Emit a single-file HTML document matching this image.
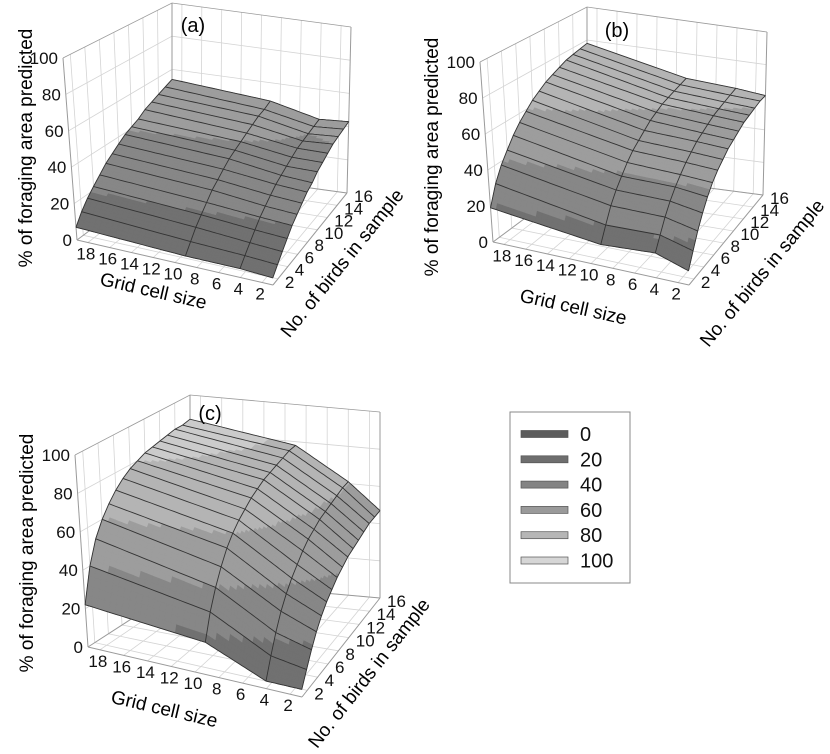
<!DOCTYPE html>
<html><head><meta charset="utf-8">
<style>
html,body{margin:0;padding:0;background:#fff;}
svg{display:block;font-family:"Liberation Sans",Arial,sans-serif;}
</style></head>
<body>
<svg id="chart" width="830" height="754" viewBox="0 0 830 754">
<g id="legend">
  <rect x="510" y="412" width="120" height="171" fill="#fff" stroke="#888" stroke-width="1"/>
</g>
</svg>
<script>
// ---- data ----
const gridCols = [19, 9, 4, 1];
const birdRows = [1,2,3,4,5,6,7,8,9,10,11,12,13,14,15,16];
const gridTicks = [18,16,14,12,10,8,6,4,2];
const birdTicks = [2,4,6,8,10,12,14,16];
const zTicks = [0,20,40,60,80,100];
const legendLevels = [0,20,40,60,80,100];

const colA19 = [7,13,18,22,26,30,33,36,39,41,43,46,48,50,52,54];
const colA9  = [5,10,15,19,23,27,30,33,36,38,40,42,44,46,47,49];
const colA4  = [5,9,13,17,21,24,27,30,32,34,36,38,39,40,41,42];
const colA1  = [4,8,12,16,20,23,26,29,31,34,36,38,40,41,42,43];

const colB19 = [19,30,38,44,50,55,59,63,66,69,71,73,75,76,77,78];
const colB9  = [12,20,28,34,39,44,48,51,54,57,59,61,62,63,64,65];
const colB4  = [14,21,28,34,39,43,47,50,53,55,57,59,60,61,62,63];
const colB1  = [8,16,24,31,37,42,46,49,52,54,56,58,59,60,61,61];

const colC19 = [22,40,52,60,66,71,75,78,80,82,83,84,85,86,86,87];
const colC9  = [17,30,40,48,55,60,64,67,70,72,74,75,76,77,78,78];
const colC4  = [4,14,23,31,37,42,46,50,53,55,57,58,59,60,61,61];
const colC1  = [4,11,18,24,29,33,36,39,41,43,44,45,46,47,47,47];

const surfaceA = [colA19, colA9, colA4, colA1];
const surfaceB = [colB19, colB9, colB4, colB1];
const surfaceC = [colC19, colC9, colC4, colC1];

// ---- geometry (panel frames) ----
const panels = [
  {id:'a', surf:surfaceA, FL:[77,240], FR:[273,285], BR:[347,193], BL:[172,169],
   VFL:[-14,-182], VFR:[-6,-178], VBR:[4,-166], VBL:[0,-166],
   tag:[193,25], gt:[152,297], bt:[347,267], yt:[32,148]},
  {id:'b', surf:surfaceB, FL:[493,242], FR:[689,285], BR:[763,195], BL:[587,172],
   VFL:[-13,-180], VFR:[-6,-177], VBR:[4,-163], VBL:[0,-165],
   tag:[617,30], gt:[572,313], bt:[767,277], yt:[438,157]},
  {id:'c', surf:surfaceC, FL:[88,647], FR:[302,697], BR:[380,598], BL:[190,581],
   VFL:[-13,-192], VFR:[-6,-190], VBR:[0,-186], VBL:[0,-186],
   tag:[210,413], gt:[163,715], bt:[374,677], yt:[33,553]}
];

const NS = 'http://www.w3.org/2000/svg';
const svg = document.getElementById('chart');
function mk(tag, attrs, parent){
  const e = document.createElementNS(NS, tag);
  for (const k in attrs) e.setAttribute(k, attrs[k]);
  (parent||svg).appendChild(e);
  return e;
}
function lerp(a,b,s){return [a[0]+(b[0]-a[0])*s, a[1]+(b[1]-a[1])*s];}
function uOf(g){return (19-g)/18;}
function tOf(b){return (b-1)/15;}
function proj(p,u,t,z){
  const f = lerp(lerp(p.FL,p.FR,u), lerp(p.BL,p.BR,u), t);
  const v = lerp(lerp(p.VFL,p.VFR,u), lerp(p.VBL,p.VBR,u), t);
  return [f[0]+v[0]*z/100, f[1]+v[1]*z/100];
}
function pts(arr){return arr.map(q=>q[0].toFixed(1)+','+q[1].toFixed(1)).join(' ');}
const bandColors = ['#717171','#878787','#9d9d9d','#b4b4b4','#cbcbcb'];
function bandColor(z){return bandColors[Math.max(0,Math.min(4,Math.floor(z/20)))];}
const legendColors = ['#5c5c5c','#6e6e6e','#848484','#9a9a9a','#b6b6b6','#d6d6d6'];

panels.forEach(p=>{
  const g = mk('g',{});
  
  
  const walls = mk('g',{},g);
  
  
  const gridC = '#d4d4d4', frameC = '#9a9a9a';
  gridTicks.forEach(gv=>{
    const a=proj(p,uOf(gv),0,0), b=proj(p,uOf(gv),1,0), c=proj(p,uOf(gv),1,100);
    mk('polyline',{points:pts([a,b,c]),fill:'none',stroke:gridC,'stroke-width':0.8},walls);
  });
  birdTicks.forEach(bv=>{
    const a=proj(p,1,tOf(bv),0), b=proj(p,0,tOf(bv),0), c=proj(p,0,tOf(bv),100);
    mk('polyline',{points:pts([a,b,c]),fill:'none',stroke:gridC,'stroke-width':0.8},walls);
  });
  zTicks.forEach(zv=>{
    if(zv===0) return;
    const a=proj(p,0,0,zv), b=proj(p,0,1,zv), c=proj(p,1,1,zv);
    mk('polyline',{points:pts([a,b,c]),fill:'none',stroke:zv===100?frameC:gridC,'stroke-width':0.8},walls);
  });
  [[proj(p,0,0,0),proj(p,0,0,100)],[proj(p,0,1,0),proj(p,0,1,100)],[proj(p,1,1,0),proj(p,1,1,100)],
   [proj(p,0,0,0),proj(p,1,0,0)],[proj(p,1,0,0),proj(p,1,1,0)],[proj(p,0,0,0),proj(p,0,1,0)],[proj(p,0,1,0),proj(p,1,1,0)]]
   .forEach(l=>mk('line',{x1:l[0][0],y1:l[0][1],x2:l[1][0],y2:l[1][1],stroke:frameC,'stroke-width':1},walls));

  const surf = mk('g',{},g);
  
  
  const S = p.surf;
  const SU=20, ST=4;
  for(let r=birdRows.length-2;r>=0;r--){
    for(let c=0;c<gridCols.length-1;c++){
      const u0=uOf(gridCols[c]), u1=uOf(gridCols[c+1]);
      const t0=tOf(birdRows[r]), t1=tOf(birdRows[r+1]);
      const z00=S[c][r], z10=S[c+1][r], z01=S[c][r+1], z11=S[c+1][r+1];
      const zz=(a,b)=>z00*(1-a)*(1-b)+z10*a*(1-b)+z01*(1-a)*b+z11*a*b;
      for(let j=ST-1;j>=0;j--){
        for(let i=0;i<SU;i++){
          const a0=i/SU,a1=(i+1)/SU,b0=j/ST,b1=(j+1)/ST;
          const q=[[a0,b0],[a1,b0],[a1,b1],[a0,b1]].map(ab=>
            proj(p,u0+(u1-u0)*ab[0],t0+(t1-t0)*ab[1],zz(ab[0],ab[1])));
          const col=bandColor(zz((a0+a1)/2,(b0+b1)/2));
          const poly=mk('polygon',{points:pts(q),fill:col,stroke:col,'stroke-width':0.6},surf);
          
          
        }
      }
    }
  }
  const mesh = mk('g',{fill:'none',stroke:'#333','stroke-width':0.9},g);
  
  
  birdRows.forEach((bv,r)=>{
    const line=[];
    for(let c=0;c<gridCols.length-1;c++){
      for(let i=0;i<=SU;i++){
        const a=i/SU;
        const u=uOf(gridCols[c])+(uOf(gridCols[c+1])-uOf(gridCols[c]))*a;
        line.push(proj(p,u,tOf(bv),S[c][r]*(1-a)+S[c+1][r]*a));
      }
    }
    mk('polyline',{points:pts(line)},mesh);
  });
  gridCols.forEach((gv,c)=>{
    const line=birdRows.map((bv,r)=>proj(p,uOf(gv),tOf(bv),S[c][r]));
    mk('polyline',{points:pts(line)},mesh);
  });

  const labs = mk('g',{'font-size':17,fill:'#111'},g);
  
  
  zTicks.forEach(zv=>{
    const q=proj(p,0,0,zv);
    const t=mk('text',{x:q[0]-5,y:q[1]+6,'text-anchor':'end'},labs);
    t.textContent=zv;
  });
  gridTicks.forEach(gv=>{
    const q=proj(p,uOf(gv),0,0);
    const t=mk('text',{x:q[0]-2,y:q[1]+17,'text-anchor':'middle'},labs);
    t.textContent=gv;
  });
  birdTicks.forEach(bv=>{
    const q=proj(p,1,tOf(bv),0);
    const t=mk('text',{x:q[0]+7,y:q[1]+9,'text-anchor':'start'},labs);
    t.textContent=bv;
  });
  const gAng = Math.atan2(p.FR[1]-p.FL[1],p.FR[0]-p.FL[0])*180/Math.PI;
  const bAng = Math.atan2(p.BR[1]-p.FR[1],p.BR[0]-p.FR[0])*180/Math.PI;
  const t1=mk('text',{x:p.gt[0],y:p.gt[1],'font-size':19,'text-anchor':'middle',transform:`rotate(${gAng.toFixed(1)} ${p.gt[0]} ${p.gt[1]})`},g);
  t1.textContent='Grid cell size';
  
  
  const t2=mk('text',{x:p.bt[0],y:p.bt[1],'font-size':19,'text-anchor':'middle',transform:`rotate(${bAng.toFixed(1)} ${p.bt[0]} ${p.bt[1]})`},g);
  t2.textContent='No. of birds in sample';
  
  
  const t3=mk('text',{x:p.yt[0],y:p.yt[1],'font-size':19,'text-anchor':'middle',transform:`rotate(-90 ${p.yt[0]} ${p.yt[1]})`},g);
  t3.textContent='% of foraging area predicted';
  
  
  const t4=mk('text',{x:p.tag[0],y:p.tag[1]+7,'font-size':20,'text-anchor':'middle'},g);
  t4.textContent='('+p.id+')';
  
  
});

const lg=document.getElementById('legend');
legendLevels.forEach((lv,i)=>{
  const y=434+i*25.3;
  const r=mk('rect',{x:521,y:y-3.5,width:47,height:7,fill:legendColors[i],stroke:'#555','stroke-width':0.7},lg);
  
  
  const t=mk('text',{x:580,y:y+7,'font-size':20,fill:'#111'},lg);
  t.textContent=lv;
  
  
});
</script>
</body></html>
